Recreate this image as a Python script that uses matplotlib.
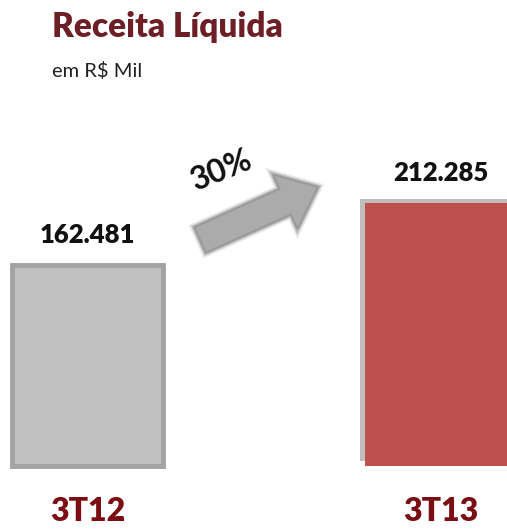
import matplotlib
matplotlib.use("Agg")
import matplotlib.pyplot as plt
from matplotlib.patches import FancyArrow
import matplotlib.patheffects as pe

periodos = ['3T12', '3T13']
receita = [162481, 212285]
rotulos = ['162.481', '212.285']
cores = ['#C0C0C0', '#C0504D']
variacao = '30%'

plt.rcParams['font.family'] = ['Lato', 'DejaVu Sans']

fig = plt.figure(figsize=(5.07, 5.31), dpi=100)
ax = fig.add_axes([0, 0, 1, 1])

# pixel-ish layout: bar centres 353 px apart, baseline 65 px from the bottom
escala = 808.4
ax.set_xlim(-87.5 / 353, (507 - 87.5) / 353)
ax.set_ylim(-65 * escala, (531 - 65) * escala)
ax.axis('off')

x = range(len(periodos))
barras = ax.bar(x, receita, width=0.428, color=cores, zorder=2)
# cinza com moldura, vermelho so com sombra
barras[0].set_edgecolor('#A3A3A3')
barras[0].set_linewidth(3.5)
barras[1].set_linewidth(0)
barras[1].set_path_effects([pe.SimplePatchShadow(offset=(-3.5, 3.5),
                                                 shadow_rgbFace='#8A8A8A', alpha=0.55),
                            pe.Normal()])

for xi, v, txt in zip(x, receita, rotulos):
    ax.text(xi, v + 22 * escala, txt, ha='center', va='baseline',
            fontsize=18.5, fontweight='heavy', color='#111111')
    ax.text(xi, -55 * escala, periodos[xi], ha='center', va='baseline',
            fontsize=23, fontweight='heavy', color='#7A0E12')

# titulo
fig.text(52 / 507, 1 - 37 / 531, 'Receita Líquida', ha='left', va='baseline',
         fontsize=24, fontweight='heavy', color='#6E1F25')
fig.text(52 / 507, 1 - 77 / 531, 'em R$ Mil', ha='left', va='baseline',
         fontsize=14.5, color='#222222')

# seta de crescimento
seta = FancyArrow(2.00, 2.91, 1.18, 0.53, width=0.28, head_width=0.60,
                  head_length=0.36, length_includes_head=True,
                  transform=fig.dpi_scale_trans, facecolor='#ABABAB',
                  edgecolor='#9A9A9A', linewidth=1.5, zorder=5)
seta.set_path_effects([pe.Stroke(linewidth=6, foreground='#BBBBBB', alpha=0.35),
                       pe.Stroke(linewidth=3.5, foreground='#A0A0A0', alpha=0.6),
                       pe.Normal()])
fig.add_artist(seta)

fig.text(222 / 507, 1 - 170 / 531, variacao, ha='center', va='center',
         rotation=22, fontsize=23, fontweight='bold', color='#111111')

fig.savefig('out.png', dpi=100, facecolor='white')
